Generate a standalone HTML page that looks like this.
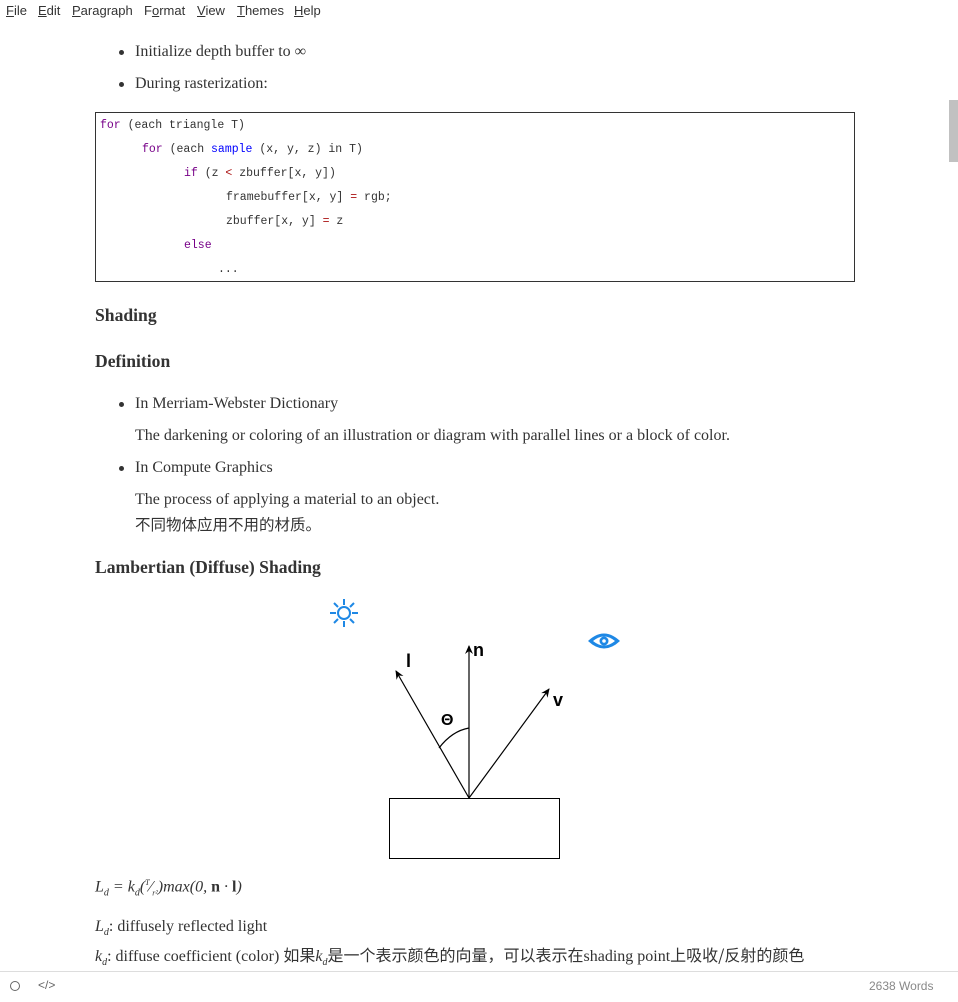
<!DOCTYPE html>
<html><head><meta charset="utf-8"><style>
body{margin:0;width:958px;height:1001px;overflow:hidden;background:#fff;position:relative;font-family:"Liberation Serif","Noto Serif CJK SC",serif;color:#333;}
.a{position:absolute;white-space:nowrap;}
.menu{font-family:"Liberation Sans",sans-serif;font-size:13px;color:#333;top:3px;}
.t{font-size:16px;}
.cjk{font-family:"Noto Sans CJK SC",sans-serif;font-size:15.5px;}
.code{font-family:"Liberation Mono",monospace;font-size:11.5px;color:#333;}
.k{color:#770088}.b{color:#0000ff}.r{color:#a11}
h3{margin:0;font-size:17.6px;font-weight:bold;}
.dot{position:absolute;width:5px;height:5px;border-radius:50%;background:#333;}
</style></head><body>
<div class="a menu" style="left:6px"><u>F</u>ile</div>
<div class="a menu" style="left:38px"><u>E</u>dit</div>
<div class="a menu" style="left:72px"><u>P</u>aragraph</div>
<div class="a menu" style="left:144px">F<u>o</u>rmat</div>
<div class="a menu" style="left:197px"><u>V</u>iew</div>
<div class="a menu" style="left:237px"><u>T</u>hemes</div>
<div class="a menu" style="left:294px"><u>H</u>elp</div>

<div class="dot" style="left:119px;top:50px"></div>
<div class="a t" style="left:135px;top:43px">Initialize depth buffer to ∞</div>
<div class="dot" style="left:119px;top:82px"></div>
<div class="a t" style="left:135px;top:75px">During rasterization:</div>

<div class="a" style="left:95px;top:112px;width:758px;height:168px;border:1px solid #333"></div>
<div class="a code" style="left:100px;top:119px"><span class="k">for</span> (each triangle T)</div>
<div class="a code" style="left:142px;top:143px"><span class="k">for</span> (each <span class="b">sample</span> (x, y, z) in T)</div>
<div class="a code" style="left:184px;top:167px"><span class="k">if</span> (z <span class="r">&lt;</span> zbuffer[x, y])</div>
<div class="a code" style="left:226px;top:191px">framebuffer[x, y] <span class="r">=</span> rgb;</div>
<div class="a code" style="left:226px;top:215px">zbuffer[x, y] <span class="r">=</span> z</div>
<div class="a code" style="left:184px;top:239px"><span class="k">else</span></div>
<div class="a code" style="left:218px;top:263px">...</div>

<h3 class="a" style="left:95px;top:305px">Shading</h3>
<h3 class="a" style="left:95px;top:351px">Definition</h3>
<div class="dot" style="left:119px;top:402px"></div>
<div class="a t" style="left:135px;top:395px">In Merriam-Webster Dictionary</div>
<div class="a t" style="left:135px;top:427px">The darkening or coloring of an illustration or diagram with parallel lines or a block of color.</div>
<div class="dot" style="left:119px;top:466px"></div>
<div class="a t" style="left:135px;top:459px">In Compute Graphics</div>
<div class="a t" style="left:135px;top:491px">The process of applying a material to an object.</div>
<div class="a cjk" style="left:135px;top:513px">不同物体应用不用的材质。</div>
<h3 class="a" style="left:95px;top:557px">Lambertian (Diffuse) Shading</h3>

<svg class="a" style="left:0;top:0" width="958" height="1001">
<defs><marker id="m" markerWidth="10" markerHeight="10" refX="8" refY="4" orient="auto" markerUnits="userSpaceOnUse"><path d="M0,0 L9,4 L0,8 L3,4z" fill="#000"/></marker></defs>
<g stroke="#1e88e5" stroke-width="2" fill="none">
<circle cx="344" cy="613" r="6"/>
<line x1="330" y1="613" x2="336" y2="613"/><line x1="352" y1="613" x2="358" y2="613"/>
<line x1="344" y1="599" x2="344" y2="605"/><line x1="344" y1="621" x2="344" y2="627"/>
<line x1="334" y1="603" x2="338" y2="607"/><line x1="350" y1="619" x2="354" y2="623"/>
<line x1="354" y1="603" x2="350" y2="607"/><line x1="338" y1="619" x2="334" y2="623"/>
</g>
<path d="M588,641 Q604,626 620,641 Q604,656 588,641z" fill="#1e88e5"/>
<path d="M593,641 Q604,632 615,641 Q604,650 593,641z" fill="#fff"/>
<circle cx="604" cy="641" r="4.5" fill="#1e88e5"/><circle cx="604" cy="641" r="1.8" fill="#fff"/>
<rect x="389.5" y="798.5" width="170" height="60" fill="none" stroke="#000"/>
<g stroke="#000" stroke-width="1.2" fill="none">
<line x1="469" y1="798" x2="469" y2="646" marker-end="url(#m)"/>
<line x1="469" y1="798" x2="396" y2="671" marker-end="url(#m)"/>
<line x1="469" y1="798" x2="549" y2="689" marker-end="url(#m)"/>
<path d="M439,748 Q452,731 469,728"/>
</g>
<g font-family="Liberation Sans,sans-serif" font-weight="bold" font-size="18" fill="#000">
<text x="406" y="667">l</text><text x="473" y="656">n</text><text x="553" y="706">v</text><text x="441" y="725" font-size="16">Θ</text>
</g>
</svg>

<div class="a t" style="left:95px;top:878px;font-style:italic">L<sub style="font-size:10px">d</sub> = k<sub style="font-size:10px">d</sub>(<sup style="font-size:8px">T</sup>⁄<sub style="font-size:8px">r²</sub>)max(0, <b style="font-style:normal">n</b> · <b style="font-style:normal">l</b>)</div>
<div class="a t" style="left:95px;top:918px"><i>L<sub style="font-size:10px">d</sub></i>: diffusely reflected light</div>
<div class="a t" style="left:95px;top:942px"><i>k<sub style="font-size:10px">d</sub></i>: diffuse coefficient (color) <span class="cjk" style="font-size:16px">如果</span><i>k<sub style="font-size:10px">d</sub></i><span class="cjk" style="font-size:16px">是一个表示颜色的向量，可以表示在</span>shading point<span class="cjk" style="font-size:16px">上吸收/反射的颜色</span></div>

<div class="a" style="left:949px;top:100px;width:9px;height:62px;background:#c1c1c1"></div>
<div class="a" style="left:0;top:971px;width:958px;height:30px;background:#fff;border-top:1px solid #ddd"></div>
<div class="a" style="left:10px;top:981px;width:8px;height:8px;border:1px solid #666;border-radius:50%"></div>
<div class="a" style="left:38px;top:978px;font-family:'Liberation Sans',sans-serif;font-size:12px;color:#666">&lt;/&gt;</div>
<div class="a" style="left:869px;top:979px;font-family:'Liberation Sans',sans-serif;font-size:12px;color:#888">2638 Words</div>
</body></html>
